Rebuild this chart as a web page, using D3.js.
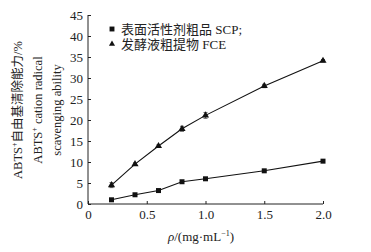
<!DOCTYPE html>
<html lang="zh">
<head>
    <meta charset="UTF-8">
    <script src="https://cdn.jsdelivr.net/npm/d3@7"></script>
    <title>ABTS</title>
    <style>
        body { margin: 0; background: #fff; }
        text { font-family: "Liberation Serif", "Noto Sans CJK SC", serif; fill: #222; }
    </style>
</head>
<body>
    <div class="fig"></div>
    <script>
        // concentration mg/mL
        const conc = [0.2, 0.4, 0.6, 0.8, 1.0, 1.5, 2.0];
        const scpVals = [1.0, 2.2, 3.2, 5.3, 6.0, 7.9, 10.2];
        const fceVals = [4.5, 9.5, 13.8, 17.9, 21.1, 28.1, 34.1];
        const scpErr = [0.2, 0.2, 0.2, 0.3, 0.3, 0.2, 0.3];
        const fceErr = [0.6, 0.3, 0.3, 0.6, 0.7, 0.4, 0.3];
        const xTicks = [0, 0.5, 1.0, 1.5, 2.0];
        const xTickLabels = ["0", "0.5", "1.0", "1.5", "2.0"];
        const yTicks = [0, 5, 10, 15, 20, 25, 30, 35, 40, 45];
        const seriesNames = ["表面活性剂粗品 SCP;", "发酵液粗提物 FCE"];

        const width = 371, height = 252;
        const svg = d3.select(".fig").append("svg")
            .attr("width", width)
            .attr("height", height);

        const x = d3.scaleLinear().domain([0, 2]).range([88, 323]);
        const y = d3.scaleLinear().domain([0, 45]).range([204, 15]);

        // axes, ticks pointing inward
        const xAxis = svg.append("g").attr("transform", "translate(0,204)")
            .call(d3.axisBottom(x).tickValues(xTicks).tickSize(-3).tickPadding(6)
                .tickFormat((d, i) => xTickLabels[i]));
        const yAxis = svg.append("g").attr("transform", "translate(88,0)")
            .call(d3.axisLeft(y).tickValues(yTicks).tickSize(-3).tickPadding(5));
        [xAxis, yAxis].forEach(a => {
            a.select(".domain").attr("stroke", "#222").attr("stroke-width", 1);
            a.selectAll(".tick line").attr("stroke", "#222");
            a.selectAll(".tick text").attr("font-size", 13)
                .attr("font-family", "Liberation Serif").attr("fill", "#333");
        });
        xAxis.select(".domain").attr("d", "M88,0H323");
        yAxis.select(".domain").attr("d", "M0,204V15");

        const line = d3.line().x(d => x(d[0])).y(d => y(d[1]));
        const series = [
            { vals: scpVals, err: scpErr, shape: d3.symbolSquare, size: 25 },
            { vals: fceVals, err: fceErr, shape: d3.symbolTriangle, size: 22 }
        ];

        series.forEach(s => {
            const pts = conc.map((c, i) => [c, s.vals[i], s.err[i]]);
            svg.append("path").datum(pts)
                .attr("d", line)
                .attr("fill", "none")
                .attr("stroke", "#111")
                .attr("stroke-width", 1.1);
            // error bars
            const eb = svg.append("g").selectAll("g").data(pts).enter().append("g");
            eb.append("line")
                .attr("x1", d => x(d[0])).attr("x2", d => x(d[0]))
                .attr("y1", d => y(d[1] - d[2])).attr("y2", d => y(d[1] + d[2]))
                .attr("stroke", "#666");
            [-1, 1].forEach(sg => {
                eb.append("line")
                    .attr("x1", d => x(d[0]) - 2).attr("x2", d => x(d[0]) + 2)
                    .attr("y1", d => y(d[1] + sg * d[2])).attr("y2", d => y(d[1] + sg * d[2]))
                    .attr("stroke", "#666");
            });
            svg.append("g").selectAll("path").data(pts).enter().append("path")
                .attr("transform", d => `translate(${x(d[0])},${y(d[1])})`)
                .attr("d", d3.symbol().type(s.shape).size(s.size))
                .attr("fill", "#111");
        });

        // legend
        const leg = svg.append("g");
        seriesNames.forEach((name, i) => {
            const ly = 29 + i * 15;
            leg.append("path")
                .attr("transform", `translate(112,${ly})`)
                .attr("d", d3.symbol().type(series[i].shape).size(i === 0 ? 24 : 16))
                .attr("fill", "#111");
            leg.append("text")
                .attr("x", 121).attr("y", ly + 4.5)
                .attr("font-size", 13)
                .text(name);
        });

        // y labels
        const yl = svg.append("g").attr("transform", "translate(0,110) rotate(-90)");
        const lab1 = yl.append("text").attr("x", 0).attr("y", 22)
            .attr("text-anchor", "middle").attr("font-size", 12.5);
        lab1.append("tspan").text("ABTS");
        lab1.append("tspan").attr("font-size", 8).attr("dy", -5).text("+");
        lab1.append("tspan").attr("dy", 5).text("自由基清除能力/%");
        const lab2 = yl.append("text").attr("x", 0).attr("y", 42)
            .attr("text-anchor", "middle").attr("font-size", 12.5);
        lab2.append("tspan").text("ABTS");
        lab2.append("tspan").attr("font-size", 8).attr("dy", -5).text("+");
        lab2.append("tspan").attr("dy", 5).text(" cation radical");
        yl.append("text").attr("x", 0).attr("y", 61)
            .attr("text-anchor", "middle").attr("font-size", 12.5)
            .text("scavenging ability");

        // x label
        const xl = svg.append("text").attr("x", 201).attr("y", 241)
            .attr("text-anchor", "middle").attr("font-size", 13);
        xl.append("tspan").attr("font-style", "italic").text("ρ");
        xl.append("tspan").text("/(mg·mL");
        xl.append("tspan").attr("font-size", 8).attr("dy", -5).text("−1");
        xl.append("tspan").attr("dy", 5).text(")");
    </script>
</body>
</html>
